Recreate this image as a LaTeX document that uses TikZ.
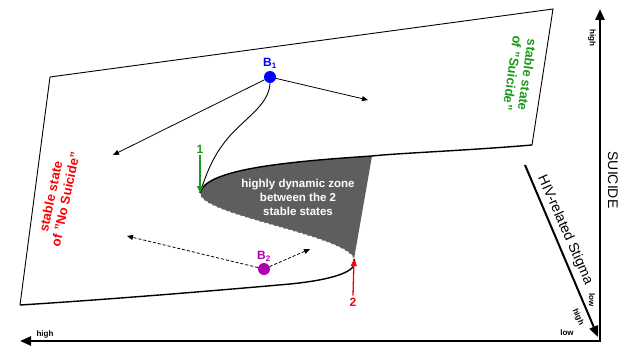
\documentclass[tikz,border=0pt]{standalone}
\usepackage{fontspec}
\setmainfont{Liberation Sans}
\usetikzlibrary{arrows.meta}
\definecolor{zonegray}{HTML}{5E5E5E}
\definecolor{bluept}{HTML}{0000FF}
\definecolor{purplept}{HTML}{B000B0}
\definecolor{greentx}{HTML}{1A9A1A}
\definecolor{redtx}{HTML}{FF0000}
\begin{document}
\begin{tikzpicture}[x=1pt,y=1pt,
  edge/.style={line width=0.9pt},
  fold/.style={line width=1.4pt},
  flow/.style={line width=0.8pt,-{Triangle[length=6pt,width=5pt]}},
  dflow/.style={flow,dash pattern=on 3pt off 2pt},
  axis/.style={line width=2.4pt,-{Triangle[length=11pt,width=9pt]}},
  ball/.style={circle,inner sep=0pt,minimum size=12pt},
  tiny/.style={font=\fontsize{8}{9}\selectfont\bfseries,inner sep=0pt},
  statelbl/.style={font=\fontsize{13}{15}\selectfont\bfseries,align=center,inner sep=0pt},
  numlbl/.style={font=\fontsize{12}{14}\selectfont\bfseries,inner sep=0pt},
  ptlbl/.style={font=\fontsize{12}{14}\selectfont\bfseries,inner sep=0pt},
  axlbl/.style={font=\fontsize{14}{16}\selectfont,inner sep=0pt}]
\useasboundingbox (0,-345) rectangle (631,0);

% key points of the folded surface
\coordinate (tip) at (200,-193);
\coordinate (nose) at (354,-259);
\coordinate (zoneTop) at (372,-156);

% highly dynamic zone
\fill[zonegray] (zoneTop) .. controls (280,-162) and (205,-170) .. (tip)
  .. controls (198,-215) and (345,-235) .. (nose) -- cycle;

% outline of the surface
\draw[edge] (532,-145) -- (553,-9) -- (50,-77) -- (20,-305);
\draw[fold] (532,-145) .. controls (460,-151) and (400,-153) .. (zoneTop)
  .. controls (280,-162) and (205,-170) .. (tip);
\draw[white,line width=1pt,dash pattern=on 3pt off 2pt] (tip)
  .. controls (198,-215) and (345,-235) .. (nose);
\draw[fold] (nose) .. controls (360,-272) and (330,-280) .. (290,-284)
  .. controls (200,-292) and (100,-300) .. (20,-305);

\node[statelbl,text=greentx,rotate=-98] (stS) at (520,-74)
  {stable state\\of "Suicide"};
\node[statelbl,text=redtx,rotate=78] (stN) at (58,-198)
  {stable state\\of "No Suicide"};
\node[font=\fontsize{11.5}{14}\selectfont\bfseries,text=white,align=center,inner sep=0pt]
  (zone) at (298,-197) {highly dynamic zone\\between the 2\\stable states};

% ball B1 and its paths
\node[ball,fill=bluept] (B1) at (270,-77) {};
\node[ptlbl,text=bluept] (B1l) at (270,-63) {B\textsubscript{1}};
\coordinate (b1a) at (113,-155);
\coordinate (b1b) at (368,-100);
\draw[flow] (B1) -- (b1a);
\draw[flow] (B1) -- (b1b);
\draw[edge] (B1.south) .. controls (269,-105) and (245,-118) .. (228,-138)
  .. controls (212,-157) and (206,-175) .. (tip);

% ball B2 and its paths
\node[ball,fill=purplept] (B2) at (264,-269) {};
\node[ptlbl,text=purplept] (B2l) at (264,-256) {B\textsubscript{2}};
\coordinate (b2a) at (127,-236);
\coordinate (b2b) at (310,-249);
\draw[dflow] (B2) -- (b2a);
\draw[dflow] (B2) -- (b2b);

% jumps between the stable states
\node[numlbl,text=greentx] (n1) at (200,-149) {1};
\draw[line width=1.3pt,greentx,-{Triangle[length=7pt,width=6pt]}] (n1.south) ++(0,-2) -- (tip);
\node[numlbl,text=redtx] (n2) at (353,-302) {2};
\draw[line width=1.3pt,redtx,-{Triangle[length=7pt,width=6pt]}] (n2.north) ++(0,2) -- (nose);

% axes
\coordinate (O) at (600,-341);
\coordinate (Ytop) at (600,-9);
\coordinate (Xend) at (20,-341);
\coordinate (Zs) at (525,-165);
\coordinate (Ze) at (598,-337);
\draw[axis] (O) -- (Ytop);
\draw[axis] (O) ++(1.2,0) -- (Xend);
\draw[line width=2pt,-{Triangle[length=11pt,width=9pt]}] (Zs) -- (Ze);

\node[axlbl,rotate=-90] (ySuicide) at (613,-180) {SUICIDE};
\node[axlbl,rotate=-66] (zStigma) at (565,-230) {HIV-related Stigma};
\node[tiny,rotate=-90] (yhigh) at (592,-38) {high};
\node[tiny,rotate=-90] (ylow) at (592,-300) {low};
\node[tiny] (xhigh) at (45,-334) {high};
\node[tiny] (xlow) at (567,-333) {low};
\node[tiny,rotate=-66] (zhigh) at (578,-317) {high};
\end{tikzpicture}
\end{document}
